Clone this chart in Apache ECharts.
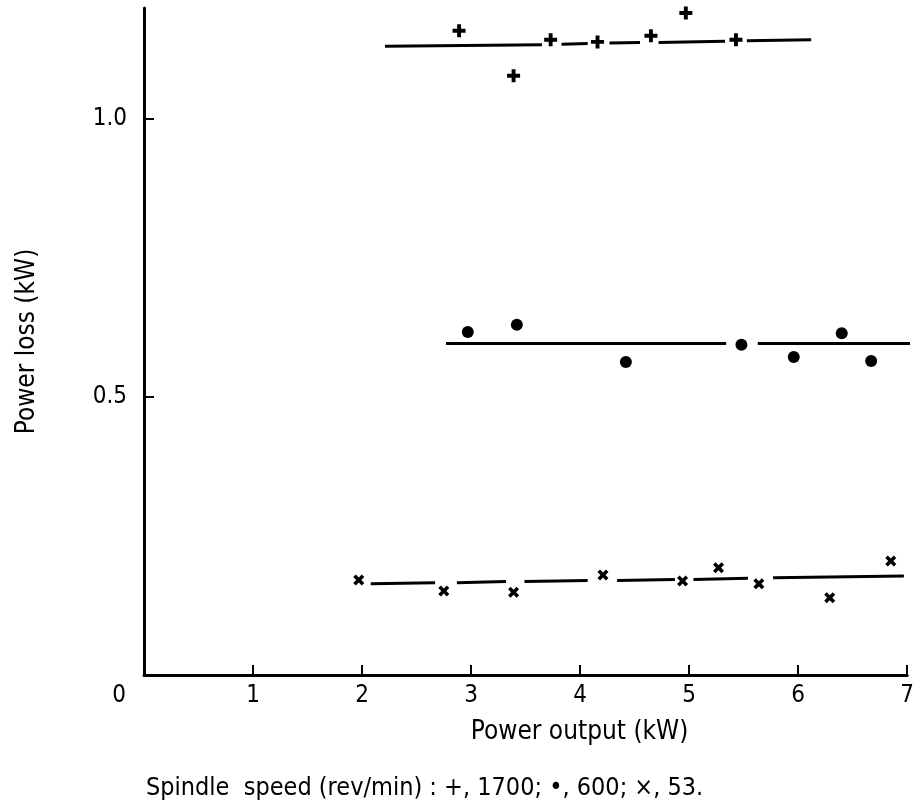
<!DOCTYPE html>
<html>
<head>
<meta charset="utf-8">
<script src="https://cdn.jsdelivr.net/npm/echarts@6/dist/echarts.min.js"></script>
<style>html,body{margin:0;padding:0;background:#fff}#c{width:917px;height:810px}</style>
</head>
<body>
<div id="c"></div>
<script>
// ---- data ----
var xTicks = [0, 1, 2, 3, 4, 5, 6, 7];
var yTicks = [0.5, 1.0];
var xName = 'Power output (kW)';
var yName = 'Power loss (kW)';
var caption = 'Spindle  speed (rev/min) : +, 1700; \u2022, 600; \u00d7, 53.';

// spindle speed 1700 rev/min (+)
var pts1700 = [[2.89, 1.159], [3.39, 1.078], [3.73, 1.143], [4.16, 1.139], [4.65, 1.150], [4.97, 1.191], [5.43, 1.143]];
// spindle speed 600 rev/min (dot)
var pts600 = [[2.97, 0.617], [3.42, 0.630], [4.42, 0.563], [5.48, 0.594], [5.96, 0.572], [6.40, 0.615], [6.67, 0.565]];
// spindle speed 53 rev/min (x)
var pts53 = [[1.97, 0.171], [2.75, 0.151], [3.39, 0.149], [4.21, 0.180], [4.94, 0.169], [5.27, 0.193], [5.64, 0.164], [6.29, 0.139], [6.85, 0.205]];

// fitted lines (broken around markers)
var fit1700 = [[[2.21, 1.131], [3.65, 1.134]], [[3.83, 1.135], [4.07, 1.136]], [[4.27, 1.137], [4.55, 1.138]], [[4.72, 1.138], [5.33, 1.140]], [[5.53, 1.141], [6.12, 1.143]]];
var fit600 = [[[2.77, 0.596], [5.34, 0.596]], [[5.63, 0.596], [7.04, 0.596]]];
var fit53 = [[[2.08, 0.164], [2.67, 0.166]], [[2.87, 0.166], [3.32, 0.168]], [[3.49, 0.168], [4.07, 0.170]], [[4.34, 0.170], [4.87, 0.172]], [[5.04, 0.172], [5.54, 0.174]], [[5.77, 0.175], [6.97, 0.178]]];

// ---- chart ----
var FONT = 'DejaVu Sans Condensed';
var FS = 24;
var FSN = 26;
var plusPath = 'path://M3.5,0h3v3.5h3.5v3h-3.5v3.5h-3v-3.5h-3.5v-3h3.5z';

function linesSeries(segs) {
  return {
    type: 'lines', coordinateSystem: 'cartesian2d', silent: true, z: 2,
    lineStyle: { color: '#000', width: 3, opacity: 1 },
    data: segs.map(function (s) { return { coords: s }; })
  };
}

var chart = echarts.init(document.getElementById('c'), null, { renderer: 'canvas' });
chart.setOption({
  animation: false,
  backgroundColor: '#fff',
  textStyle: { fontFamily: FONT, color: '#000' },
  title: {
    text: caption, left: 141, top: 771,
    textStyle: { fontFamily: FONT, fontSize: 25, fontWeight: 'normal', color: '#000' }
  },
  grid: { left: 144, right: 8, top: 8, bottom: 135, containLabel: false },
  xAxis: {
    type: 'value', min: 0, max: 7, interval: 1,
    name: xName, nameLocation: 'middle', nameGap: 44,
    nameTextStyle: { fontFamily: FONT, fontSize: FSN, color: '#000', padding: [0, 0, 0, 108] },
    axisLine: { show: true, onZero: false, lineStyle: { color: '#000', width: 3 } },
    axisTick: { show: true, inside: true, length: 10, customValues: xTicks.slice(1), lineStyle: { color: '#000', width: 2 } },
    axisLabel: {
      customValues: xTicks, margin: 9, fontFamily: FONT, fontSize: FS, color: '#000',
      formatter: function (v) { return v === 0 ? '{z|0}' : String(v); },
      rich: { z: { fontFamily: FONT, fontSize: FS, color: '#000', padding: [0, 50, 0, 0] } }
    },
    splitLine: { show: false }
  },
  yAxis: {
    type: 'value', min: 0, max: 1.2, interval: 0.5,
    name: yName, nameLocation: 'middle', nameGap: 104, nameRotate: 90,
    nameTextStyle: { fontFamily: FONT, fontSize: FSN, color: '#000' },
    axisLine: { show: true, onZero: false, lineStyle: { color: '#000', width: 3 } },
    axisTick: { show: true, inside: true, length: 10, customValues: yTicks, lineStyle: { color: '#000', width: 2 } },
    axisLabel: {
      customValues: yTicks, margin: 17, fontFamily: FONT, fontSize: FS, color: '#000',
      formatter: function (v) { return v.toFixed(1); }
    },
    splitLine: { show: false }
  },
  series: [
    linesSeries(fit1700),
    linesSeries(fit600),
    linesSeries(fit53),
    { type: 'scatter', name: '1700', data: pts1700, symbol: plusPath, symbolSize: 13,
      itemStyle: { color: '#000', opacity: 1 }, z: 3 },
    { type: 'scatter', name: '600', data: pts600, symbol: 'circle', symbolSize: 12,
      itemStyle: { color: '#000', opacity: 1 }, z: 3 },
    { type: 'scatter', name: '53', data: pts53, symbol: plusPath, symbolSize: 12, symbolRotate: 45,
      itemStyle: { color: '#000', opacity: 1 }, z: 3 }
  ]
});
</script>
</body>
</html>
